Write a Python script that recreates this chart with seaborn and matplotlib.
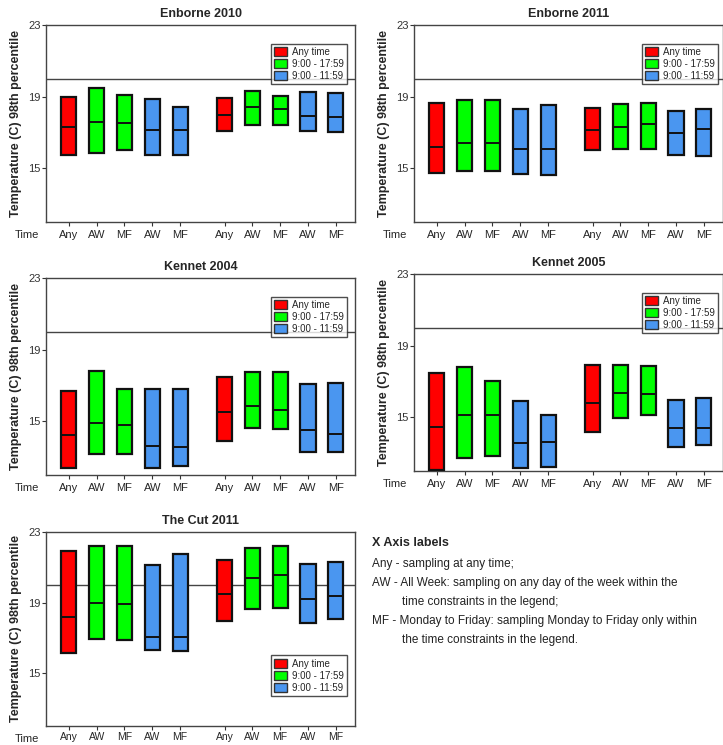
import matplotlib
matplotlib.use("Agg")
import matplotlib.pyplot as plt
import seaborn as sns
from matplotlib.patches import Patch

sns.set_style("white")
plt.rcParams['font.family'] = ['Liberation Sans', 'DejaVu Sans']

categories = ["Any", "AW", "MF", "AW", "MF", "Any", "AW", "MF", "AW", "MF"]
groups = ["Any time", "9:00 - 17:59", "9:00 - 17:59", "9:00 - 11:59", "9:00 - 11:59"] * 2
palette = {"Any time": "#ff0000", "9:00 - 17:59": "#00ff00", "9:00 - 11:59": "#4a96f0"}

enborne2010_top = [19.0, 19.48, 19.09, 18.89, 18.44, 18.94, 19.30, 19.04, 19.24, 19.22]
enborne2010_mid = [17.29, 17.59, 17.55, 17.16, 17.16, 17.99, 18.40, 18.31, 17.94, 17.87]
enborne2010_bot = [15.74, 15.87, 16.0, 15.76, 15.73, 17.08, 17.44, 17.40, 17.10, 17.05]

enborne2011_top = [18.65, 18.81, 18.81, 18.29, 18.53, 18.39, 18.60, 18.65, 18.18, 18.29]
enborne2011_mid = [16.21, 16.40, 16.40, 16.10, 16.10, 17.14, 17.31, 17.46, 16.95, 17.20]
enborne2011_bot = [14.72, 14.83, 14.83, 14.66, 14.61, 16.0, 16.07, 16.07, 15.76, 15.67]

kennet2004_top = [16.69, 17.79, 16.81, 16.81, 16.81, 17.46, 17.74, 17.74, 17.10, 17.14]
kennet2004_mid = [14.21, 14.90, 14.81, 13.63, 13.55, 15.50, 15.87, 15.65, 14.49, 14.30]
kennet2004_bot = [12.40, 13.20, 13.20, 12.40, 12.51, 13.91, 14.64, 14.58, 13.31, 13.31]

kennet2005_top = [17.49, 17.80, 17.04, 15.93, 15.15, 17.90, 17.90, 17.85, 15.99, 16.05]
kennet2005_mid = [14.44, 15.11, 15.15, 13.54, 13.60, 15.79, 16.35, 16.29, 14.40, 14.40]
kennet2005_bot = [12.05, 12.74, 12.85, 12.16, 12.25, 14.16, 14.94, 15.15, 13.36, 13.43]

cut2011_top = [21.90, 22.23, 22.23, 21.11, 21.73, 21.41, 22.10, 22.23, 21.17, 21.28]
cut2011_mid = [18.20, 19.00, 18.91, 17.03, 17.07, 19.47, 20.40, 20.55, 19.19, 19.37]
cut2011_bot = [16.14, 16.94, 16.85, 16.29, 16.23, 17.95, 18.65, 18.70, 17.86, 18.07]

threshold = 20
positions = [0, 1, 2, 3, 4, 5.6, 6.6, 7.6, 8.6, 9.6]

fig = plt.figure(figsize=(7.23, 7.45), dpi=100)
W, H = 723, 745

def make_axes(x0, y0, x1, y1):
    return fig.add_axes([x0 / W, 1 - y1 / H, (x1 - x0) / W, (y1 - y0) / H])

def panel(ax, title, top, mid, bot, legend_loc, anchor):
    for p, t, m, b, g in zip(positions, top, mid, bot, groups):
        ax.bar(p, t - b, bottom=b, width=0.54, color=palette[g], edgecolor="#111111", linewidth=1.6, zorder=3)
        ax.plot([p - 0.27, p + 0.27], [m, m], color="#111111", lw=1.4, zorder=4)
    ax.axhline(threshold, color="#444444", lw=1.0, zorder=2)
    ax.set_xlim(-0.82, 10.29)
    ax.set_ylim(12, 23)
    ax.set_yticks([15, 19, 23])
    ax.set_yticklabels(["15", "19", "23"], fontsize=8, color="#333333")
    ax.set_xticks(positions)
    ax.set_xticklabels(categories, fontsize=8)
    ax.tick_params(axis="both", length=3, direction="out", left=True, bottom=True, color="#333333")
    ax.tick_params(axis="y", pad=1)
    ax.tick_params(axis="x", pad=3)
    ax.set_title(title, fontsize=9, fontweight="bold", pad=6)
    ax.set_ylabel("Temperature (C) 98th percentile", fontsize=9, fontweight="bold", labelpad=4)
    ax.text(-0.1, -0.065, "Time", transform=ax.transAxes, fontsize=8, ha="left", va="center")
    for s in ax.spines.values():
        s.set_color("#444444")
        s.set_linewidth(1.0)
    handles = [Patch(facecolor=palette[k], edgecolor="#333333", label=k) for k in palette]
    leg = ax.legend(handles=handles, loc=legend_loc, bbox_to_anchor=anchor, fontsize=7,
                    frameon=True, fancybox=False, handlelength=1.3, handleheight=1.1,
                    borderpad=0.35, labelspacing=0.2, handletextpad=0.5)
    leg.get_frame().set_edgecolor("#222222")
    leg.get_frame().set_linewidth(1.0)
    return ax

ax1 = make_axes(46, 25, 355, 222)
panel(ax1, "Enborne 2010", enborne2010_top, enborne2010_mid, enborne2010_bot, "upper right", (0.99, 0.93))

ax2 = make_axes(414, 25, 723, 222)
panel(ax2, "Enborne 2011", enborne2011_top, enborne2011_mid, enborne2011_bot, "upper right", (1.0, 0.93))

ax3 = make_axes(46, 278, 355, 475)
panel(ax3, "Kennet 2004", kennet2004_top, kennet2004_mid, kennet2004_bot, "upper right", (0.99, 0.93))

ax4 = make_axes(414, 274, 723, 471)
panel(ax4, "Kennet 2005", kennet2005_top, kennet2005_mid, kennet2005_bot, "upper right", (1.0, 0.93))

ax5 = make_axes(46, 532, 355, 726)
panel(ax5, "The Cut 2011", cut2011_top, cut2011_mid, cut2011_bot, "lower right", (0.99, 0.13))
for lbl in ax5.get_xticklabels():
    lbl.set_fontsize(7.5)
ax5.tick_params(axis="x", pad=1)

fig.text(372 / W, 1 - 537 / H, "X Axis labels", fontsize=9, fontweight="bold", va="top")
lines = [
    (372, 558, "Any - sampling at any time;"),
    (372, 577, "AW - All Week: sampling on any day of the week within the"),
    (402, 596, "time constraints in the legend;"),
    (372, 615, "MF - Monday to Friday: sampling Monday to Friday only within"),
    (402, 634, "the time constraints in the legend."),
]
for x, y, s in lines:
    fig.text(x / W, 1 - y / H, s, fontsize=8.5, va="top", color="#222222")

fig.savefig("out.png", dpi=100)
